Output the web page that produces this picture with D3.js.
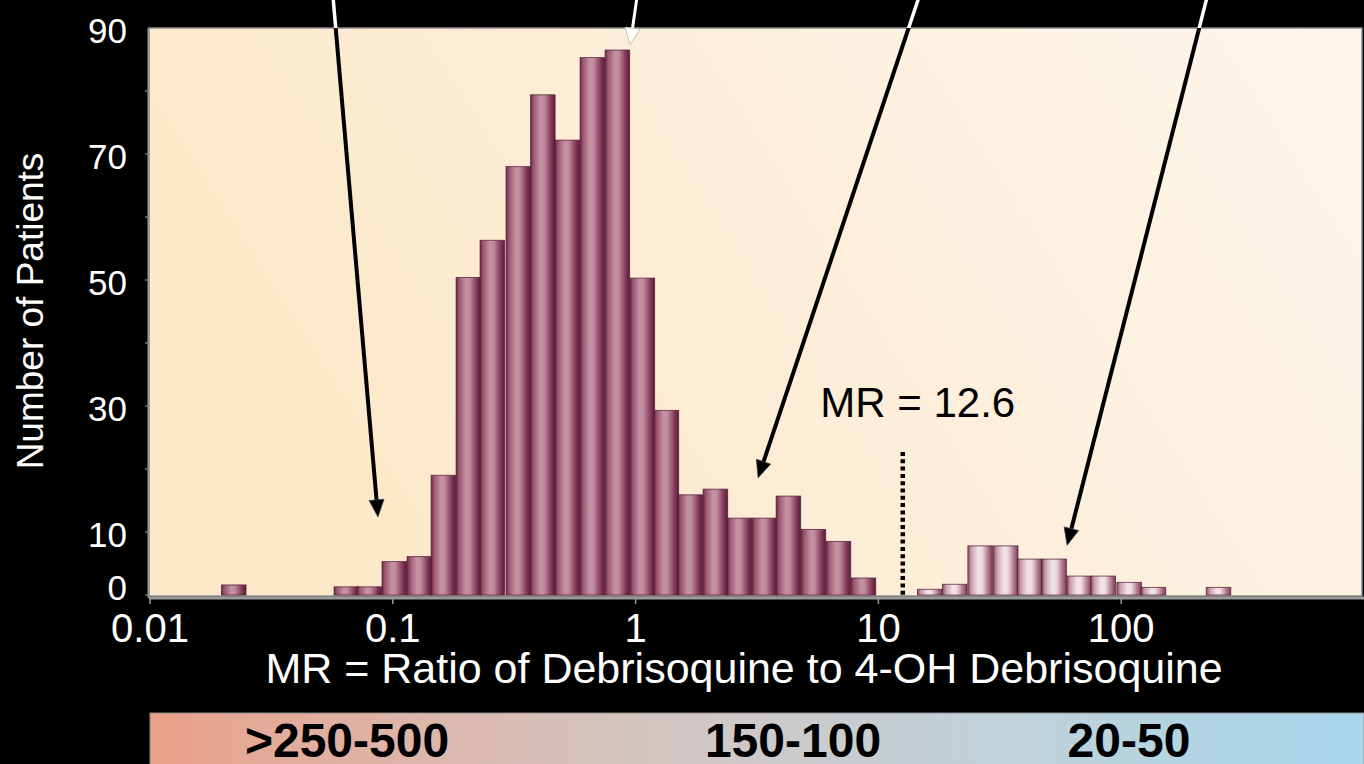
<!DOCTYPE html>
<html>
<head>
<meta charset="utf-8">
<script src="https://cdn.jsdelivr.net/npm/d3@7"></script>
<style>
  html, body { margin: 0; padding: 0; background: #000; }
  svg { display: block; }
  text { font-family: "Liberation Sans", Arial, sans-serif; }
</style>
</head>
<body>
<svg id="chart" width="1364" height="764"></svg>
<script>
// Extensive metabolizers: lower edge of each log bin (MR) and patient counts
const emBinLo = [0.0197, 0.0573, 0.0712, 0.0903, 0.1145, 0.1438, 0.1823, 0.2288, 0.2927,
                 0.3694, 0.466, 0.5907, 0.7489, 0.9491, 1.192, 1.496, 1.897, 2.382,
                 3.019, 3.792, 4.806, 6.093, 7.723];
const emCounts = [1.6, 1.3, 1.3, 5.3, 6.1, 19, 50.4, 56.3, 68, 79.4, 72.2, 85.3, 86.5,
                  50.3, 29.3, 15.9, 16.8, 12.2, 12.2, 15.7, 10.4, 8.5, 2.7];

// Poor metabolizers
const pmBinLo = [14.49, 18.36, 23.36, 29.78, 37.39, 47.14, 59.75, 75.04, 96.0, 120.9, 224.0];
const pmCounts = [0.9, 1.7, 7.8, 7.8, 5.7, 5.7, 3.0, 3.0, 2.0, 1.2, 1.2];

// Width of every bin in log10 units
const binStepLog = 0.101;

// Axis ticks
const xTickValues = [0.01, 0.1, 1, 10, 100];
const xTickLabels = ["0.01", "0.1", "1", "10", "100"];
const yTickMarks = [0, 10, 20, 30, 40, 50, 60, 70, 80];
const yTickLabels = [0, 10, 30, 50, 70, 90];

// Antimode threshold
const antimode = 12.6;

// Pointer arrows: [start MR, start count] -> [tip MR, tip count]
const arrows = [
  { from: [0.0567, 95], to: [0.0869, 12.4], kind: "dark" },
  { from: [1.0143, 95], to: [0.949, 87.3], kind: "light" },
  { from: [14.72, 95], to: [3.196, 18.6], kind: "dark" },
  { from: [226.1, 95], to: [59.9, 7.9], kind: "dark" }
];

// Dose bands shown underneath
const bandLabels = [">250-500", "150-100", "20-50"];

const svg = d3.select("#chart");
const W = 1364, H = 764;
const plot = { left: 149, right: 1362, top: 28, bottom: 596 };

const x = d3.scaleLog().domain([0.01, 1000]).range([150, 1364]);
const y = d3.scaleLinear().domain([0, 90]).range([595, 28]);

const defs = svg.append("defs");

// Plot background
const bg = defs.append("linearGradient").attr("id", "plotBg")
  .attr("x1", "0%").attr("x2", "100%").attr("y1", "30%").attr("y2", "0%");
bg.append("stop").attr("offset", "0%").attr("stop-color", "#fde9c9");
bg.append("stop").attr("offset", "45%").attr("stop-color", "#fdeed9");
bg.append("stop").attr("offset", "100%").attr("stop-color", "#fdf6ec");

// Cylinder shading for bars
function barGradient(id, stops) {
  const g = defs.append("linearGradient").attr("id", id)
    .attr("x1", "0%").attr("x2", "100%").attr("y1", "0%").attr("y2", "0%");
  stops.forEach(([o, c]) => g.append("stop").attr("offset", o).attr("stop-color", c));
}
barGradient("emBar", [["0%", "#6b2747"], ["12%", "#9c5570"], ["40%", "#c593a3"],
                      ["55%", "#c08b9c"], ["85%", "#7f3556"], ["100%", "#5c1d38"]]);
barGradient("pmBar", [["0%", "#8a4d64"], ["14%", "#c99dae"], ["42%", "#f3e4ea"],
                      ["58%", "#eedbe2"], ["86%", "#a96c83"], ["100%", "#7a3d55"]]);

// Bottom band gradient
const band = defs.append("linearGradient").attr("id", "bandGrad")
  .attr("x1", "0%").attr("x2", "100%");
[["0%", "#eb9f86"], ["6%", "#e5a794"], ["30%", "#d9bdb5"], ["48%", "#cfc9c8"],
 ["70%", "#c0d2da"], ["100%", "#a8d6ec"]]
  .forEach(([o, c]) => band.append("stop").attr("offset", o).attr("stop-color", c));

defs.append("clipPath").attr("id", "plotClip").append("rect")
  .attr("x", plot.left).attr("y", plot.top)
  .attr("width", plot.right - plot.left).attr("height", plot.bottom - plot.top);

// Plot area
svg.append("rect")
  .attr("x", plot.left).attr("y", plot.top)
  .attr("width", plot.right - plot.left).attr("height", plot.bottom - plot.top)
  .attr("fill", "url(#plotBg)")
  .attr("stroke", "#8c8c8c").attr("stroke-width", 1.5);

// Bars
function drawBars(lo, counts, fill, cls) {
  const data = lo.map((v, i) => ({ lo: v, hi: v * Math.pow(10, binStepLog), n: counts[i] }));
  svg.append("g").attr("class", cls)
    .selectAll("rect").data(data).join("rect")
    .attr("x", d => x(d.lo))
    .attr("width", d => x(d.hi) - x(d.lo))
    .attr("y", d => y(d.n))
    .attr("height", d => y(0) - y(d.n))
    .attr("fill", fill)
    .attr("stroke", "#4a1830").attr("stroke-opacity", 0.7).attr("stroke-width", 1);
}
drawBars(emBinLo, emCounts, "url(#emBar)", "em-bars");
drawBars(pmBinLo, pmCounts, "url(#pmBar)", "pm-bars");

// X axis line and ticks
svg.append("line")
  .attr("x1", plot.left).attr("x2", plot.right + 2)
  .attr("y1", 598).attr("y2", 598)
  .attr("stroke", "#9a9a9a").attr("stroke-width", 3);
svg.append("g").selectAll("line").data(xTickValues).join("line")
  .attr("x1", d => x(d)).attr("x2", d => x(d))
  .attr("y1", 598).attr("y2", 604)
  .attr("stroke", "#9a9a9a").attr("stroke-width", 1.5);
svg.append("g").selectAll("text").data(xTickValues).join("text")
  .attr("x", d => x(d)).attr("y", 642)
  .attr("text-anchor", "middle")
  .attr("fill", "#fff").attr("font-size", 40)
  .text((d, i) => xTickLabels[i]);

// Y axis line and ticks
svg.append("line")
  .attr("x1", 148.5).attr("x2", 148.5)
  .attr("y1", plot.top).attr("y2", 598)
  .attr("stroke", "#9a9a9a").attr("stroke-width", 2);
svg.append("g").selectAll("line").data(yTickMarks).join("line")
  .attr("x1", 145).attr("x2", 149)
  .attr("y1", d => y(d)).attr("y2", d => y(d))
  .attr("stroke", "#8a8a8a").attr("stroke-width", 1.2);
svg.append("g").selectAll("text").data(yTickLabels).join("text")
  .attr("x", 127).attr("y", d => Math.min(y(d) + 2, 587))
  .attr("text-anchor", "end").attr("dominant-baseline", "central")
  .attr("fill", "#fff").attr("font-size", 35)
  .text(d => d);

// Axis titles
svg.append("text")
  .attr("x", 744).attr("y", 683)
  .attr("text-anchor", "middle")
  .attr("fill", "#fff").attr("font-size", 43)
  .text("MR = Ratio of Debrisoquine to 4-OH Debrisoquine");
svg.append("text")
  .attr("transform", "translate(43,311) rotate(-90)")
  .attr("text-anchor", "middle")
  .attr("fill", "#fff").attr("font-size", 37)
  .text("Number of Patients");

// Antimode marker
svg.append("line")
  .attr("x1", x(antimode)).attr("x2", x(antimode))
  .attr("y1", y(22.7)).attr("y2", y(0))
  .attr("stroke", "#000").attr("stroke-width", 4.5)
  .attr("stroke-dasharray", "4 3.3");
svg.append("text")
  .attr("x", x(antimode) + 15).attr("y", 417)
  .attr("text-anchor", "middle")
  .attr("fill", "#000").attr("font-size", 42)
  .text("MR = " + antimode);

// Arrows
const headLen = 17, headHalf = 7.5;
function arrowGeom(a) {
  const x0 = x(a.from[0]), y0 = y(a.from[1]);
  const x1 = x(a.to[0]), y1 = y(a.to[1]);
  const dx = x1 - x0, dy = y1 - y0, len = Math.hypot(dx, dy);
  const ux = dx / len, uy = dy / len;
  const bx = x1 - ux * headLen, by = y1 - uy * headLen;
  return {
    line: [[x0, y0], [bx + ux * 2, by + uy * 2]],
    head: [[x1, y1], [bx - uy * headHalf, by + ux * headHalf], [bx + uy * headHalf, by - ux * headHalf]]
  };
}
const lineGen = d3.line();
const gArrows = svg.append("g");
arrows.forEach(a => {
  const g = arrowGeom(a);
  if (a.kind === "dark") {
    // white where it crosses the black margin, black inside the plot
    gArrows.append("path").attr("d", lineGen(g.line))
      .attr("stroke", "#fff").attr("stroke-width", 3.5).attr("fill", "none");
    const inner = gArrows.append("g").attr("clip-path", "url(#plotClip)");
    inner.append("path").attr("d", lineGen(g.line))
      .attr("stroke", "#000").attr("stroke-width", 4).attr("fill", "none");
    gArrows.append("path").attr("d", lineGen(g.head) + "Z")
      .attr("fill", "#000").attr("stroke", "#33424f").attr("stroke-width", 0.8);
  } else {
    gArrows.append("path").attr("d", lineGen(g.line))
      .attr("stroke", "#fff").attr("stroke-width", 3).attr("fill", "none");
    gArrows.append("path").attr("d", lineGen(g.head) + "Z")
      .attr("fill", "#fff").attr("stroke", "#b9b2aa").attr("stroke-width", 0.8);
  }
});

// Dose band
const bandX0 = 150, bandX1 = 1364, bandY0 = 713;
svg.append("rect")
  .attr("x", bandX0).attr("y", bandY0)
  .attr("width", bandX1 - bandX0).attr("height", H - bandY0 + 2)
  .attr("fill", "url(#bandGrad)")
  .attr("stroke", "#8a8a8a").attr("stroke-width", 1);
const bandPos = d3.scalePoint().domain(bandLabels).range([347, 1129]);
svg.append("g").selectAll("text").data(bandLabels).join("text")
  .attr("x", (d, i) => i === 1 ? 793 : bandPos(d))
  .attr("y", 757)
  .attr("text-anchor", "middle")
  .attr("fill", "#000").attr("font-size", 48).attr("font-weight", "bold")
  .text(d => d);
</script>
</body>
</html>
